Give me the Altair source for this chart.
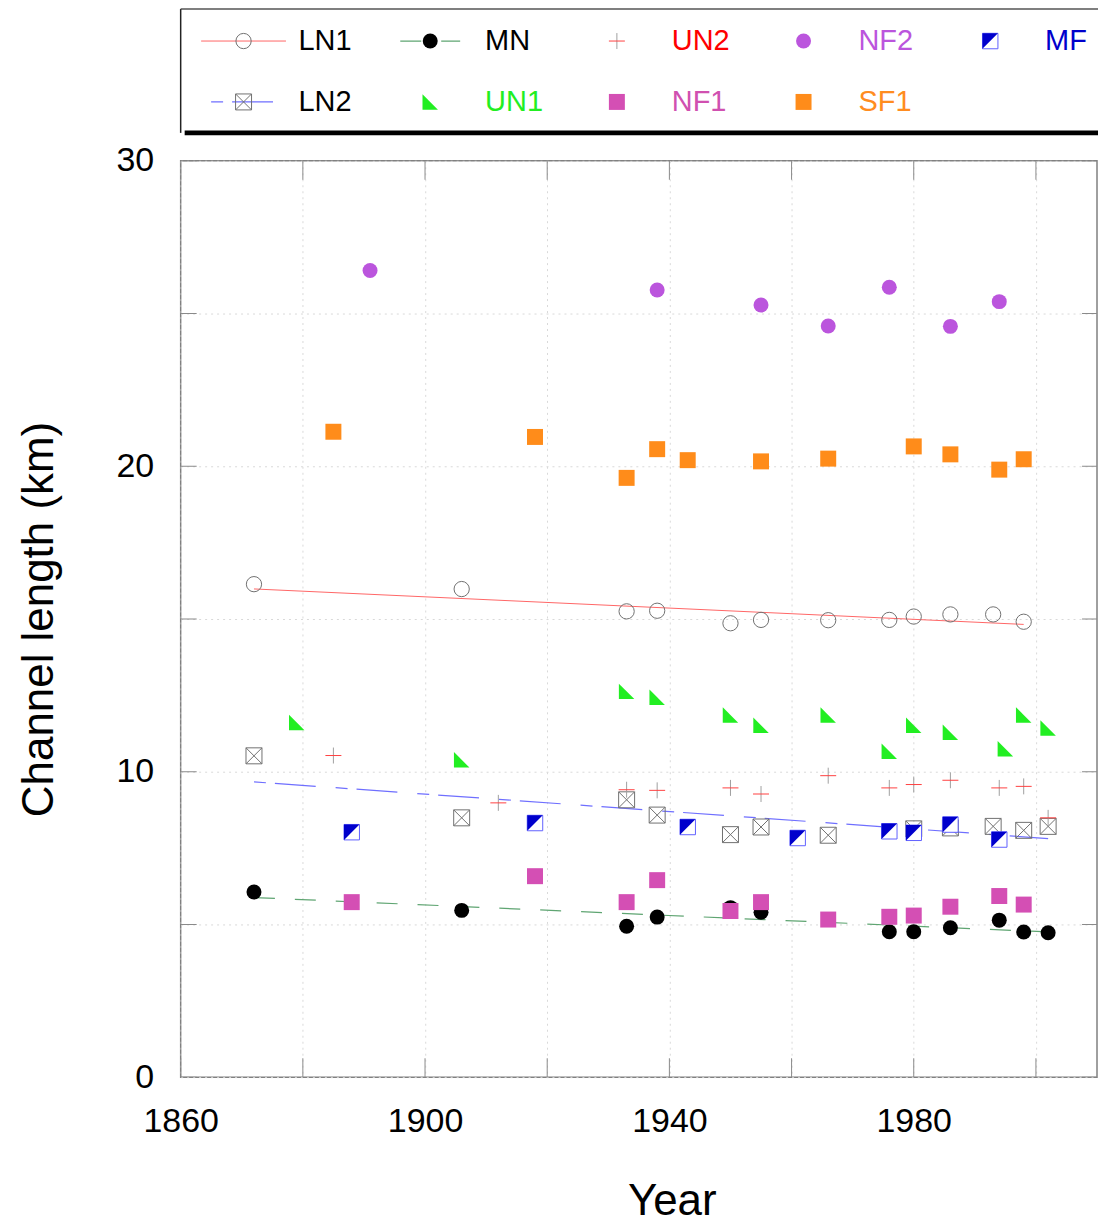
import altair as alt
import pandas as pd

FONT = "Liberation Sans"

# ---------------- data ----------------
LN1_YEARS = [1872, 1906, 1933, 1938, 1950, 1955, 1966, 1976, 1980, 1986, 1993, 1998]
LN1_VALUES = [16.14, 15.98, 15.25, 15.27, 14.86, 14.97, 14.96, 14.97, 15.08, 15.15, 15.15, 14.91]

LN2_YEARS = [1872, 1906, 1933, 1938, 1950, 1955, 1966, 1980, 1986, 1993, 1998, 2002]
LN2_VALUES = [10.52, 8.49, 9.08, 8.58, 7.94, 8.19, 7.92, 8.13, 8.16, 8.21, 8.08, 8.21]

MN_YEARS = [1872, 1906, 1933, 1938, 1950, 1955, 1976, 1980, 1986, 1994, 1998, 2002]
MN_VALUES = [6.06, 5.46, 4.94, 5.24, 5.55, 5.40, 4.76, 4.76, 4.89, 5.14, 4.75, 4.73]

UN2_YEARS = [1885, 1912, 1933, 1938, 1950, 1955, 1966, 1976, 1980, 1986, 1994, 1998, 2002]
UN2_VALUES = [10.53, 8.98, 9.41, 9.39, 9.47, 9.27, 9.87, 9.47, 9.58, 9.72, 9.47, 9.52, 8.49]

UN1_YEARS = [1879, 1906, 1933, 1938, 1950, 1955, 1966, 1976, 1980, 1986, 1995, 1998, 2002]
UN1_VALUES = [11.61, 10.39, 12.63, 12.44, 11.86, 11.52, 11.86, 10.67, 11.52, 11.29, 10.75, 11.86, 11.43]

NF2_YEARS = [1891, 1938, 1955, 1966, 1976, 1986, 1994]
NF2_VALUES = [26.41, 25.77, 25.28, 24.59, 25.86, 24.58, 25.39]

SF1_YEARS = [1885, 1918, 1933, 1938, 1943, 1955, 1966, 1980, 1986, 1994, 1998]
SF1_VALUES = [21.13, 20.96, 19.62, 20.56, 20.20, 20.16, 20.25, 20.65, 20.39, 19.89, 20.23]

NF1_YEARS = [1888, 1918, 1933, 1938, 1950, 1955, 1966, 1976, 1980, 1986, 1994, 1998]
NF1_VALUES = [5.73, 6.58, 5.73, 6.45, 5.44, 5.73, 5.16, 5.25, 5.29, 5.58, 5.93, 5.65]

MF_YEARS = [1888, 1918, 1943, 1961, 1976, 1980, 1986, 1994]
MF_VALUES = [8.02, 8.32, 8.19, 7.83, 8.05, 8.00, 8.27, 7.78]

LEGEND_ROW1 = ["LN1", "MN", "UN2", "NF2", "MF"]
LEGEND_ROW2 = ["LN2", "UN1", "NF1", "SF1"]

X_TICKS = [1860, 1880, 1900, 1920, 1940, 1960, 1980, 2000]
Y_TICKS = [0, 5, 10, 15, 20, 25, 30]
X_DOMAIN = [1860, 2010]
Y_DOMAIN = [0, 30]

SERIES = {
    "LN1": (LN1_YEARS, LN1_VALUES),
    "LN2": (LN2_YEARS, LN2_VALUES),
    "MN": (MN_YEARS, MN_VALUES),
    "UN2": (UN2_YEARS, UN2_VALUES),
    "UN1": (UN1_YEARS, UN1_VALUES),
    "NF2": (NF2_YEARS, NF2_VALUES),
    "SF1": (SF1_YEARS, SF1_VALUES),
    "NF1": (NF1_YEARS, NF1_VALUES),
    "MF": (MF_YEARS, MF_VALUES),
}

rows = []
for name, (ys, vs) in SERIES.items():
    for y, v in zip(ys, vs):
        rows.append({"series": name, "year": y, "value": v})
df = pd.DataFrame(rows)

legend_rows = []
for r, names in enumerate([LEGEND_ROW1, LEGEND_ROW2]):
    for c, n in enumerate(names):
        legend_rows.append({"series": n, "col": c, "row": r})
legend_df = pd.DataFrame(legend_rows)

# ---------------- styles ----------------
BOXX = "M-1,-1L1,-1L1,1L-1,1Z M-1,-1L1,1 M1,-1L-1,1"
HLINE = "M-1,0L1,0"
VLINE = "M0,-1L0,1"
TRI_UN1 = "M-1,-1L-1,1L1,1Z"
TRI_MF = "M-1,-1L1,-1L-1,1Z"

MARKER_STYLES = {
    "LN1": [dict(shape="circle", size=234, filled=False, color="#707070", strokeWidth=1)],
    "MN": [dict(shape="circle", size=225, filled=True, color="#000000", strokeWidth=0)],
    "UN2": [dict(shape=VLINE, size=256, filled=False, color="#a0a0a0", strokeWidth=1),
            dict(shape=HLINE, size=256, filled=False, color="#ff4040", strokeWidth=1)],
    "NF2": [dict(shape="circle", size=225, filled=True, color="#bb55dd", strokeWidth=0)],
    "MF": [dict(shape="square", size=240, fill="#ffffff", stroke="#6060ff", strokeWidth=1),
           dict(shape=TRI_MF, size=240, filled=True, color="#0000cc", strokeWidth=0)],
    "LN2": [dict(shape=BOXX, size=256, filled=False, color="#707070", strokeWidth=1)],
    "UN1": [dict(shape=TRI_UN1, size=240, filled=True, color="#22ee22", strokeWidth=0)],
    "NF1": [dict(shape="square", size=256, filled=True, color="#d44fb4", strokeWidth=0)],
    "SF1": [dict(shape="square", size=256, filled=True, color="#ff8c1a", strokeWidth=0)],
}

LINE_STYLES = {
    "LN1": dict(color="#ff6666", strokeWidth=1),
    "LN2": dict(color="#6f6fff", strokeWidth=1.2, strokeDash=[12, 9, 41, 20]),
    "MN": dict(color="#5fa572", strokeWidth=1.2, strokeDash=[21, 20]),
}
LEGEND_LINE_LEN = {"LN1": 85, "LN2": 65, "MN": 60}

TEXT_COLORS = {
    "LN1": "#000000", "MN": "#000000", "UN2": "#ff0000", "NF2": "#bb55dd", "MF": "#0000cc",
    "LN2": "#000000", "UN1": "#22ee22", "NF1": "#d050b0", "SF1": "#ff8c20",
}

DRAW_ORDER = ["LN1", "MN", "LN2", "UN2", "UN1", "NF2", "NF1", "SF1", "MF"]

# ---------------- main chart ----------------
PW, PH = 918, 918

x_axis = alt.Axis(
    values=X_TICKS, format="d",
    labelExpr="(datum.value - 1860) % 40 == 0 ? datum.label : ''",
    grid=True, gridColor="#d9d9d9", gridDash=[2, 4], gridWidth=1,
    ticks=False, domain=False, labelOverlap=False, labelFlush=False,
    labelFont=FONT, labelFontSize=34, labelColor="#000000", labelPadding=27,
    title="Year", titleFont=FONT, titleFontSize=44, titleFontWeight="normal",
    titleColor="#000000", titlePadding=42, titleX=492, titleAlign="center",
)
y_axis = alt.Axis(
    values=Y_TICKS, format="d",
    labelExpr="datum.value % 10 == 0 ? datum.label : ''",
    grid=True, gridColor="#d9d9d9", gridDash=[2, 4], gridWidth=1,
    ticks=False, domain=False, labelOverlap=False, labelFlush=False,
    labelFont=FONT, labelFontSize=34, labelColor="#000000", labelPadding=27,
    title="Channel length (km)", titleFont=FONT, titleFontSize=44,
    titleFontWeight="normal", titleColor="#000000", titlePadding=55,
)

X = alt.X("year:Q", scale=alt.Scale(domain=X_DOMAIN, nice=False, zero=False), axis=x_axis)
Y = alt.Y("value:Q", scale=alt.Scale(domain=Y_DOMAIN, nice=False, zero=False), axis=y_axis)

layers = []

# regression lines
for name in ["LN1", "LN2", "MN"]:
    layers.append(
        alt.Chart(df)
        .transform_filter(alt.datum.series == name)
        .transform_regression("year", "value")
        .mark_line(**LINE_STYLES[name])
        .encode(x=X, y=Y)
    )

# inner ticks on all four sides
ytick_df = pd.DataFrame({"value": Y_TICKS})
xtick_df = pd.DataFrame({"year": X_TICKS})
tick_style = dict(thickness=1, color="#8a8a8a", clip=True, opacity=1)
layers.append(alt.Chart(ytick_df).mark_tick(orient="horizontal", size=32, **tick_style)
              .encode(x=alt.datum(X_DOMAIN[0]), y=Y))
layers.append(alt.Chart(ytick_df).mark_tick(orient="horizontal", size=30, **tick_style)
              .encode(x=alt.datum(X_DOMAIN[1]), y=Y))
layers.append(alt.Chart(xtick_df).mark_tick(orient="vertical", size=38, **tick_style)
              .encode(x=X, y=alt.datum(Y_DOMAIN[0])))
layers.append(alt.Chart(xtick_df).mark_tick(orient="vertical", size=38, **tick_style)
              .encode(x=X, y=alt.datum(Y_DOMAIN[1])))

# markers
for name in DRAW_ORDER:
    base = alt.Chart(df).transform_filter(alt.datum.series == name).encode(x=X, y=Y)
    for st in MARKER_STYLES[name]:
        layers.append(base.mark_point(opacity=1, **st))

main = alt.layer(*layers).properties(
    width=PW, height=PH,
    view=alt.ViewBackground(stroke="#808080", strokeWidth=1.5),
)

# ---------------- legend chart ----------------
LW, LH = 919, 122
COL_STEP, ROW_STEP = 187, 61
MARK_X0, MARK_Y0 = 63, 32

LX = alt.X("col:Q", axis=None,
           scale=alt.Scale(domain=[-MARK_X0 / COL_STEP, (LW - MARK_X0) / COL_STEP], nice=False, zero=False))
LY = alt.Y("row:Q", axis=None,
           scale=alt.Scale(domain=[-MARK_Y0 / ROW_STEP, (LH - MARK_Y0) / ROW_STEP],
                           nice=False, zero=False, reverse=True))

leg_layers = []
one = pd.DataFrame({"a": [0]})
leg_layers.append(alt.Chart(one).mark_rule(color="#555555", strokeWidth=1.5)
                  .encode(x=alt.value(0), x2=alt.value(LW), y=alt.value(0)))
leg_layers.append(alt.Chart(one).mark_rule(color="#222222", strokeWidth=1.5)
                  .encode(x=alt.value(0), y=alt.value(0), y2=alt.value(LH + 2)))
leg_layers.append(alt.Chart(one).mark_rule(color="#000000", strokeWidth=5)
                  .encode(x=alt.value(4), x2=alt.value(LW), y=alt.value(LH + 2)))

for name in ["LN1", "LN2", "MN"]:
    st = dict(LINE_STYLES[name])
    color = st.pop("color")
    leg_layers.append(
        alt.Chart(legend_df).transform_filter(alt.datum.series == name)
        .mark_point(shape=HLINE, size=LEGEND_LINE_LEN[name] ** 2, filled=False,
                    color=color, opacity=1, **st)
        .encode(x=LX, y=LY)
    )

for name in DRAW_ORDER:
    base = alt.Chart(legend_df).transform_filter(alt.datum.series == name).encode(x=LX, y=LY)
    for st in MARKER_STYLES[name]:
        leg_layers.append(base.mark_point(opacity=1, **st))

names = list(TEXT_COLORS.keys())
leg_layers.append(
    alt.Chart(legend_df)
    .mark_text(align="left", baseline="middle", dx=55, fontSize=29, font=FONT)
    .encode(x=LX, y=LY, text="series:N",
            color=alt.Color("series:N", scale=alt.Scale(domain=names,
                            range=[TEXT_COLORS[n] for n in names]), legend=None))
)

legend = alt.layer(*leg_layers).properties(
    width=LW, height=LH,
    view=alt.ViewBackground(stroke="transparent"),
)

chart = (
    alt.vconcat(legend, main, spacing=30, bounds="flush")
    .resolve_scale(x="independent", y="independent", color="independent")
    .properties(padding={"left": 16, "top": 6, "right": 0, "bottom": 0}, background="#ffffff")
)

chart.save("out.html", embed_options={"renderer": "svg", "actions": False})
